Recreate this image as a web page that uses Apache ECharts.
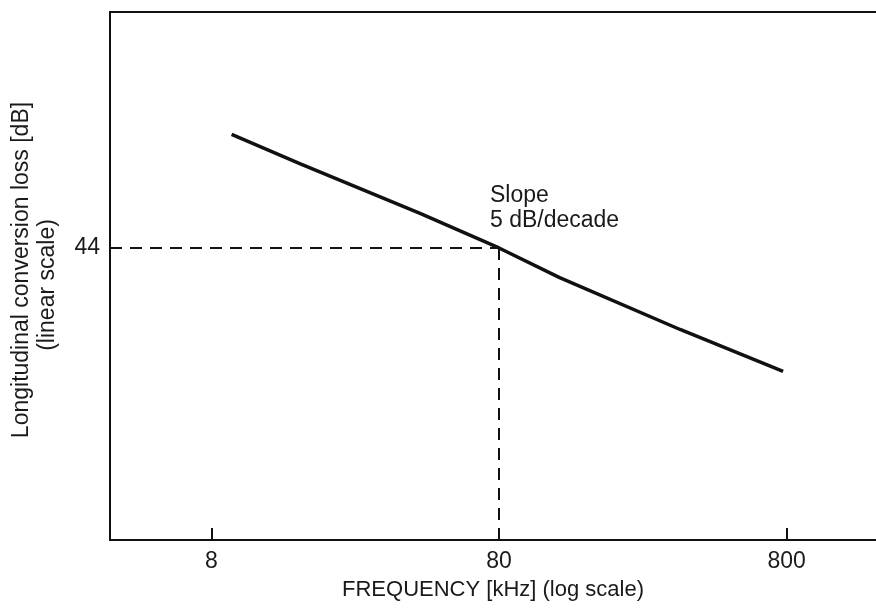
<!DOCTYPE html>
<html>
<head>
<meta charset="utf-8">
<script src="https://cdn.jsdelivr.net/npm/echarts@6/dist/echarts.min.js"></script>
<style>
  html, body { margin: 0; padding: 0; background: #fff; }
  #chart { width: 876px; height: 616px; }
</style>
</head>
<body>
<div id="chart"></div>
<script>
const freqKHz = [9.4, 16.3, 42.5, 80, 130, 341, 778];
const lossDb = [48.6, 47.4, 45.4, 44.0, 42.8, 40.7, 39.0];
const refFreq = 80;
const refLoss = 44;
const xTicks = [8, 80, 800];
const yTicks = [44];
const xRange = [3.55, 1637];
const yRange = [32.18, 53.55];

const font = '"Liberation Sans", Arial, sans-serif';
const ink = '#111';

const chart = echarts.init(document.getElementById('chart'));

const option = {
  animation: false,
  grid: { left: 110, right: 0, top: 12, bottom: 76 },
  xAxis: [{
    type: 'log',
    logBase: 10,
    min: xRange[0],
    max: xRange[1],
    name: 'FREQUENCY [kHz] (log scale)',
    nameLocation: 'middle',
    nameGap: 39,
    nameTextStyle: { fontFamily: font, fontSize: 22, color: '#1a1a1a' },
    axisLine: { lineStyle: { color: ink, width: 2 } },
    axisTick: { show: true, inside: true, length: 12, customValues: xTicks, lineStyle: { color: ink, width: 2 } },
    axisLabel: {
      customValues: xTicks,
      margin: 10,
      fontFamily: font, fontSize: 23, color: '#1a1a1a',
      formatter: v => String(Math.round(v))
    },
    splitLine: { show: false },
    minorTick: { show: false }
  }, {
    type: 'log',
    position: 'top',
    min: xRange[0],
    max: xRange[1],
    axisLine: { show: true, lineStyle: { color: ink, width: 2 } },
    axisTick: { show: false },
    axisLabel: { show: false },
    splitLine: { show: false }
  }],
  yAxis: {
    type: 'value',
    min: yRange[0],
    max: yRange[1],
    axisLine: { show: true, lineStyle: { color: ink, width: 2 } },
    axisTick: { show: false },
    axisLabel: {
      customValues: yTicks,
      margin: 10,
      fontFamily: font, fontSize: 23, color: '#1a1a1a'
    },
    splitLine: { show: false }
  },
  series: [{
    type: 'line',
    xAxisIndex: 0,
    data: freqKHz.map((f, i) => [f, lossDb[i]]),
    showSymbol: false,
    lineStyle: { color: ink, width: 3.5 },
    markLine: {
      silent: true,
      symbol: 'none',
      label: { show: false },
      lineStyle: { color: ink, width: 2, type: [12, 8] },
      data: [
        [{ coord: [xRange[0], refLoss] }, { coord: [refFreq, refLoss] }],
        [{ coord: [refFreq, refLoss] }, { coord: [refFreq, yRange[0]] }]
      ]
    }
  }],
  graphic: [
    {
      type: 'text', x: 22, y: 270, rotation: Math.PI / 2,
      style: { text: 'Longitudinal conversion loss [dB]', font: '23px ' + font, fill: '#1a1a1a', textAlign: 'center', textVerticalAlign: 'middle' }
    },
    {
      type: 'text', x: 48, y: 285, rotation: Math.PI / 2,
      style: { text: '(linear scale)', font: '23px ' + font, fill: '#1a1a1a', textAlign: 'center', textVerticalAlign: 'middle' }
    },
    {
      type: 'text', x: 490, y: 196,
      style: { text: 'Slope', font: '23px ' + font, fill: '#1a1a1a', textAlign: 'left', textVerticalAlign: 'middle' }
    },
    {
      type: 'text', x: 490, y: 221,
      style: { text: '5 dB/decade', font: '23px ' + font, fill: '#1a1a1a', textAlign: 'left', textVerticalAlign: 'middle' }
    }
  ]
};

chart.setOption(option);
</script>
</body>
</html>
